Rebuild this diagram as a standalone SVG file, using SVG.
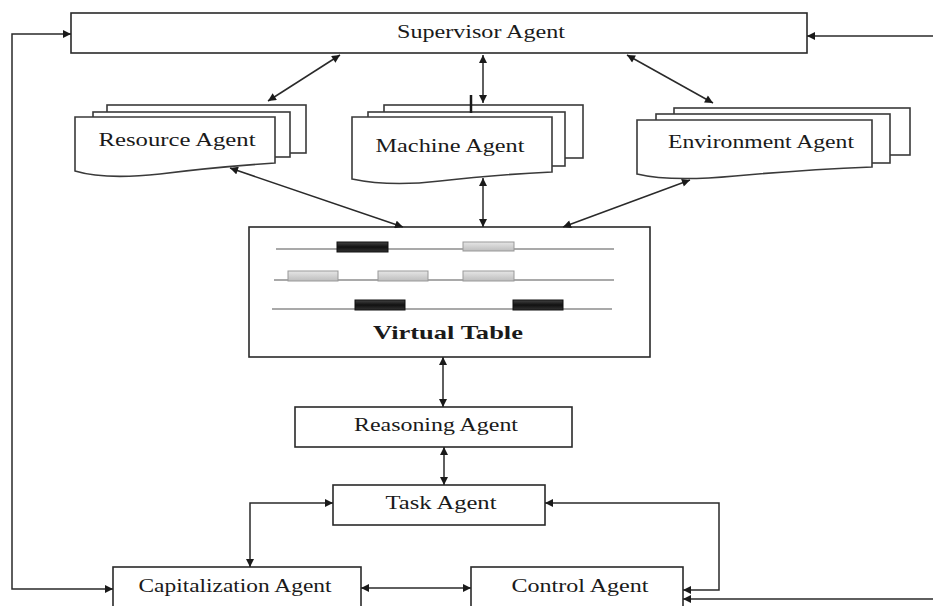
<svg xmlns="http://www.w3.org/2000/svg" width="933" height="606" viewBox="0 0 933 606">
<defs>
<marker id="ah" viewBox="0 0 10 10" refX="10" refY="5" markerWidth="9" markerHeight="8" markerUnits="userSpaceOnUse" orient="auto-start-reverse">
<path d="M0,0 L10,5 L0,10 Z" fill="#1a1a1a"/>
</marker>
<linearGradient id="lg" x1="0" y1="0" x2="0" y2="1">
<stop offset="0" stop-color="#e6e6e6"/><stop offset="1" stop-color="#bdbdbd"/>
</linearGradient>
<linearGradient id="dg" x1="0" y1="0" x2="0" y2="1">
<stop offset="0" stop-color="#444"/><stop offset="0.5" stop-color="#111"/><stop offset="1" stop-color="#333"/>
</linearGradient>
</defs>
<style>
.box{fill:#fff;stroke:#2a2a2a;stroke-width:1.6}
.page{fill:#fff;stroke:#3a3a3a;stroke-width:1.6}
.lbl{font-family:"Liberation Serif","Times New Roman",serif;font-size:19px;fill:#1a1a1a;text-anchor:middle}
.bold{font-weight:bold}
.con{fill:none;stroke:#2a2a2a;stroke-width:1.5;marker-start:url(#ah);marker-end:url(#ah)}
.one{fill:none;stroke:#2a2a2a;stroke-width:1.5;marker-end:url(#ah)}
.row{stroke:#555;stroke-width:1.2}
.dark{fill:url(#dg);stroke:#111;stroke-width:1}
.light{fill:url(#lg);stroke:#999;stroke-width:1}
</style>
<rect width="933" height="606" fill="#fff"/>

<g id="supervisor">
<rect class="box" x="71" y="13" width="736" height="40"/>
<text class="lbl" x="481" y="38" textLength="168" lengthAdjust="spacingAndGlyphs">Supervisor Agent</text>
</g>

<g id="resource">
<rect class="page" x="107" y="105" width="199" height="48"/>
<rect class="page" x="93" y="112" width="197" height="45"/>
<path class="page" d="M75,117 H275 V163 Q215,167 160,174 Q105,180 75,171 Z"/>
<text class="lbl" x="177" y="146" textLength="157" lengthAdjust="spacingAndGlyphs">Resource Agent</text>
</g>

<g id="machine">
<rect class="page" x="384" y="105" width="199" height="53"/>
<rect class="page" x="368" y="112" width="197" height="54"/>
<path class="page" d="M352,117 H552 V172 Q490,175 440,181 Q390,187 352,179 Z"/>
<line x1="471" y1="95" x2="471" y2="113" stroke="#1a1a1a" stroke-width="2.5"/>
<text class="lbl" x="450" y="152" textLength="149" lengthAdjust="spacingAndGlyphs">Machine Agent</text>
</g>

<g id="environment">
<rect class="page" x="674" y="108" width="236" height="47"/>
<rect class="page" x="656" y="114" width="234" height="49"/>
<path class="page" d="M637,120 H872 V167 Q800,170 735,176 Q670,182 637,174 Z"/>
<text class="lbl" x="761" y="148" textLength="186" lengthAdjust="spacingAndGlyphs">Environment Agent</text>
</g>

<g id="virtual-table">
<rect class="box" x="249" y="227" width="401" height="130"/>
<line class="row" x1="276" y1="249" x2="614" y2="249"/>
<line class="row" x1="274" y1="280" x2="614" y2="280"/>
<line class="row" x1="272" y1="309" x2="612" y2="309" stroke-width="1.6" stroke="#222"/>
<rect class="dark" x="337" y="242" width="51" height="10"/>
<rect class="light" x="463" y="242" width="51" height="9"/>
<rect class="light" x="288" y="271" width="50" height="10"/>
<rect class="light" x="378" y="271" width="50" height="10"/>
<rect class="light" x="463" y="271" width="51" height="10"/>
<rect class="dark" x="355" y="300" width="50" height="10"/>
<rect class="dark" x="513" y="300" width="50" height="10"/>
<text class="lbl bold" x="448" y="339" textLength="150" lengthAdjust="spacingAndGlyphs">Virtual Table</text>
</g>

<g id="reasoning">
<rect class="box" x="295" y="407" width="277" height="40"/>
<text class="lbl" x="436" y="431" textLength="164" lengthAdjust="spacingAndGlyphs">Reasoning Agent</text>
</g>

<g id="task">
<rect class="box" x="333" y="485" width="212" height="40"/>
<text class="lbl" x="441" y="509" textLength="111" lengthAdjust="spacingAndGlyphs">Task Agent</text>
</g>

<g id="capitalization">
<rect class="box" x="113" y="567" width="248" height="50"/>
<text class="lbl" x="235" y="592" textLength="193" lengthAdjust="spacingAndGlyphs">Capitalization Agent</text>
</g>

<g id="control">
<rect class="box" x="471" y="567" width="212" height="50"/>
<text class="lbl" x="580" y="592" textLength="137" lengthAdjust="spacingAndGlyphs">Control Agent</text>
</g>

<g id="connectors">
<path class="con" d="M113,589 H12 V34 H71"/>
<path class="one" d="M933,36 H807"/>
<path class="con" d="M268,101 L340,55"/>
<path class="con" d="M483,103 V55"/>
<path class="con" d="M627,55 L713,103"/>
<path class="con" d="M230,168 L403,227"/>
<path class="con" d="M483,178 V227"/>
<path class="con" d="M690,180 L563,227"/>
<path class="con" d="M443,357 V407"/>
<path class="con" d="M444,447 V485"/>
<path class="con" d="M333,503 H250 V567"/>
<path class="con" d="M545,503 H719 V590 H683"/>
<path class="con" d="M361,588 H471"/>
<path class="one" d="M933,599 H683"/>
</g>
</svg>
